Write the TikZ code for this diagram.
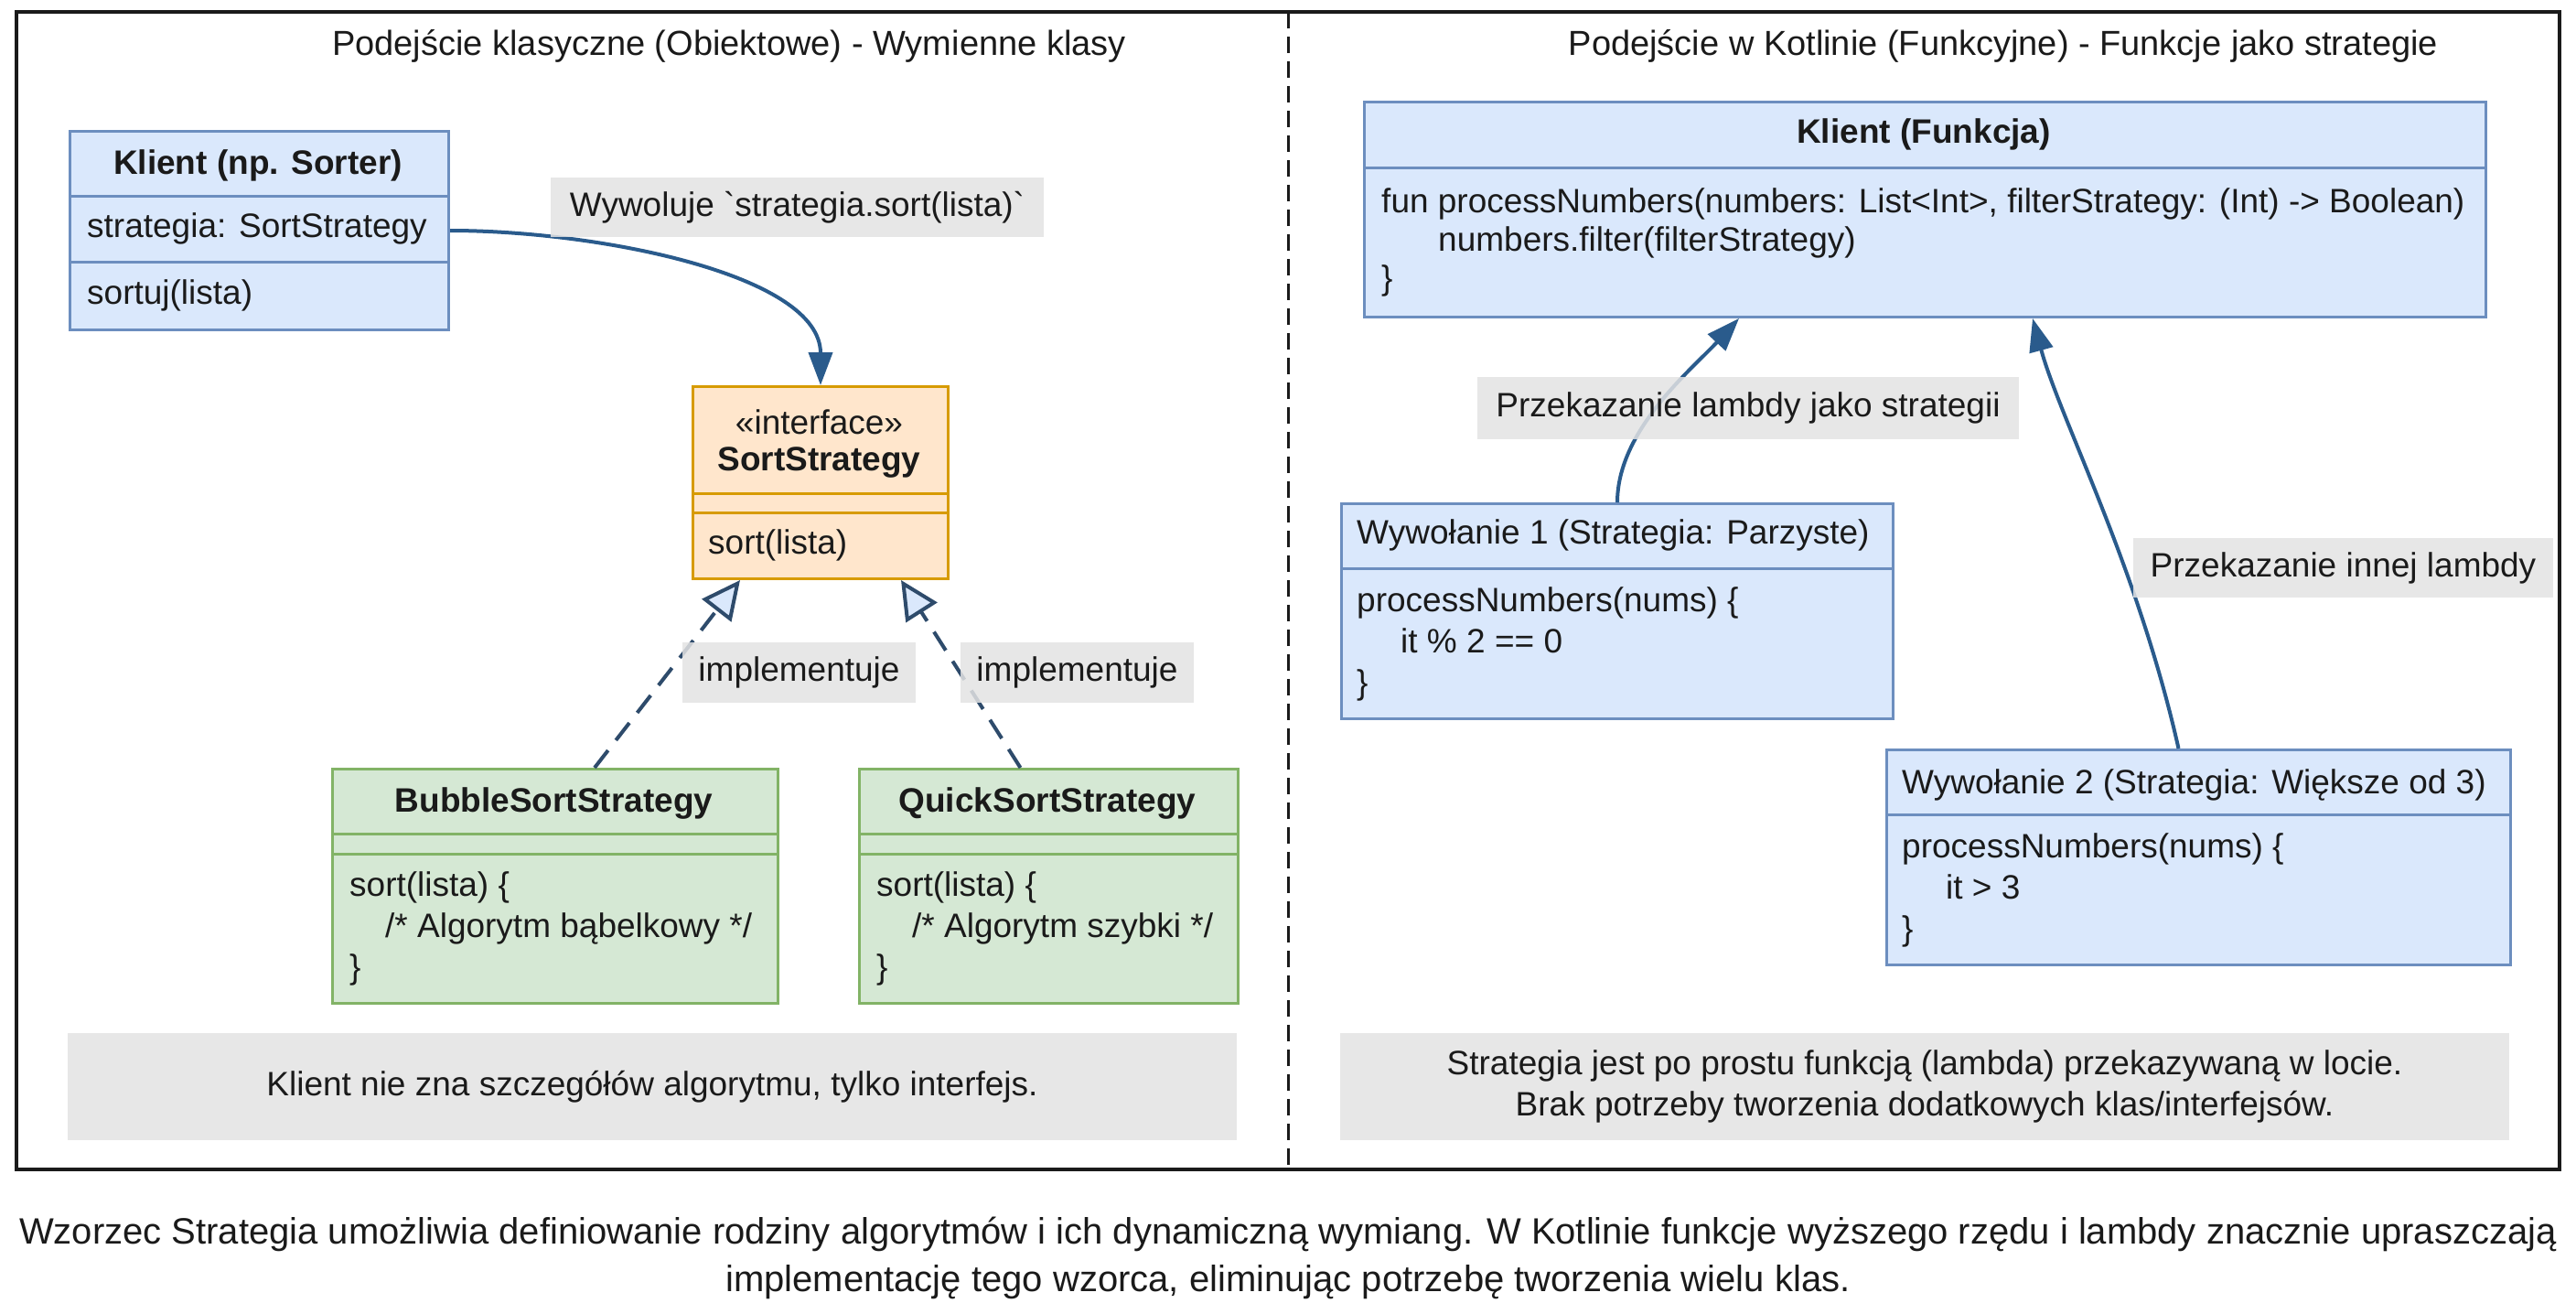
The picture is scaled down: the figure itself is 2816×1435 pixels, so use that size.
\documentclass[tikz,border=0pt]{standalone}
\usepackage{fontspec}
\setmainfont{Liberation Sans}
\usetikzlibrary{arrows.meta,calc}

\definecolor{tekst}{HTML}{1A1A1A}
\definecolor{ramka}{HTML}{1A1A1A}
\definecolor{niebWyp}{HTML}{DAE8FC}
\definecolor{niebRam}{HTML}{6C8EBF}
\definecolor{pomWyp}{HTML}{FFE6CC}
\definecolor{pomRam}{HTML}{D79B00}
\definecolor{zielWyp}{HTML}{D5E8D4}
\definecolor{zielRam}{HTML}{82B366}
\definecolor{szary}{HTML}{E3E3E3}
\definecolor{strzalka}{HTML}{2A5B8C}
\definecolor{implKol}{HTML}{2E4B6B}

\begin{document}
\begin{tikzpicture}[x=1pt, y=-1pt,
    every node/.style={inner sep=0pt, text=tekst, font=\fontsize{37}{45}\selectfont},
    klasa/.style={draw, line width=3pt, anchor=north west},
    nieb/.style={fill=niebWyp, draw=niebRam},
    pom/.style={fill=pomWyp, draw=pomRam},
    ziel/.style={fill=zielWyp, draw=zielRam},
    etykieta/.style={fill=szary, fill opacity=0.85, text opacity=1},
    tytul/.style={font=\fontsize{37}{45}\selectfont\bfseries},
    naglowek/.style={font=\fontsize{38}{45}\selectfont},
    strz/.style={draw=strzalka, line width=4pt, -{Triangle[length=36pt, width=26pt]}},
    impl/.style={draw=implKol, line width=4pt, dash pattern=on 24pt off 14pt,
      -{Triangle[fill=niebWyp, length=42pt, width=40pt]}}]
    \fill[white] (0,0) rectangle (2816,1435);
    \useasboundingbox (0,0) rectangle (2816,1435);
    \draw[ramka, line width=4pt] (18,13) rectangle (2798,1278);
    \draw[ramka, line width=3pt, dash pattern=on 18pt off 9pt] (1408,13) -- (1408,1278);
    \node[naglowek] (t1) at (797,50) {Podejście klasyczne (Obiektowe) - Wymienne klasy};
    \node[naglowek] (t2) at (2190,50) {Podejście w Kotlinie (Funkcyjne) - Funkcje jako strategie};

    % lewa strona
    \node[klasa, nieb, minimum width=414pt, minimum height=217pt] (k) at (75,142) {};
    \draw[niebRam, line width=3pt] ($(k.north west)+(0,72)$) -- ($(k.north east)+(0,72)$);
    \draw[niebRam, line width=3pt] ($(k.north west)+(0,144)$) -- ($(k.north east)+(0,144)$);
    \node[tytul] (kt) at (282,181) {Klient (np. Sorter)};
    \node[anchor=west] (ka) at (95,250) {strategia: SortStrategy};
    \node[anchor=west] (km) at (95,323) {sortuj(lista)};

    \node[klasa, pom, minimum width=279pt, minimum height=210pt] (i) at (756,421) {};
    \draw[pomRam, line width=3pt] ($(i.north west)+(0,118)$) -- ($(i.north east)+(0,118)$);
    \draw[pomRam, line width=3pt] ($(i.north west)+(0,139)$) -- ($(i.north east)+(0,139)$);
    \node (it1) at (895.5,461) {«interface»};
    \node[tytul] (it2) at (895.5,505) {SortStrategy};
    \node[anchor=west] (im) at (774,596) {sort(lista)};

    \node[klasa, ziel, minimum width=487pt, minimum height=256pt] (b) at (362,839) {};
    \draw[zielRam, line width=3pt] ($(b.north west)+(0,72)$) -- ($(b.north east)+(0,72)$);
    \draw[zielRam, line width=3pt] ($(b.north west)+(0,94)$) -- ($(b.north east)+(0,94)$);
    \node[tytul] (bt) at (605.5,878) {BubbleSortStrategy};
    \node[anchor=west, align=left] (bm) at (382,1015)
      {sort(lista) \{\\\hspace*{39pt}/* Algorytm bąbelkowy */\\\}};

    \node[klasa, ziel, minimum width=414pt, minimum height=256pt] (q) at (938,839) {};
    \draw[zielRam, line width=3pt] ($(q.north west)+(0,72)$) -- ($(q.north east)+(0,72)$);
    \draw[zielRam, line width=3pt] ($(q.north west)+(0,94)$) -- ($(q.north east)+(0,94)$);
    \node[tytul] (qt) at (1145,878) {QuickSortStrategy};
    \node[anchor=west, align=left] (qm) at (958,1015)
      {sort(lista) \{\\\hspace*{39pt}/* Algorytm szybki */\\\}};

    \draw[strz] (k.east) .. controls +(161,0) and +(0,-121) .. (i.north);
    \draw[impl] ($(b.north)+(43,0)$) -- ($(i.south west)+(53,0)$);
    \draw[impl] ($(q.north)+(-31,0)$) -- ($(i.south east)+(-53,0)$);

    \node[etykieta, minimum width=539pt, minimum height=65pt] (l1) at (871.5,226.5)
      {Wywoluje \textasciigrave strategia.sort(lista)\textasciigrave};
    \node[etykieta, minimum width=255pt, minimum height=66pt] (l2) at (873.5,735) {implementuje};
    \node[etykieta, minimum width=255pt, minimum height=66pt] (l3) at (1177.5,735) {implementuje};
    \node[etykieta, minimum width=1278pt, minimum height=117pt] (n1) at (713,1187.5)
      {Klient nie zna szczegółów algorytmu, tylko interfejs.};

    % prawa strona
    \node[klasa, nieb, minimum width=1226pt, minimum height=235pt] (kf) at (1490,110) {};
    \draw[niebRam, line width=3pt] ($(kf.north west)+(0,73)$) -- ($(kf.north east)+(0,73)$);
    \node[tytul] (kft) at (2103,147) {Klient (Funkcja)};
    \node[anchor=west, align=left, font=\fontsize{37}{42}\selectfont] (kfm) at (1510,265)
      {fun processNumbers(numbers: List<Int>, filterStrategy: (Int) -> Boolean)\\
       \hspace*{62pt}numbers.filter(filterStrategy)\\\}};

    \node[klasa, nieb, minimum width=603pt, minimum height=235pt] (w1) at (1465,549) {};
    \draw[niebRam, line width=3pt] ($(w1.north west)+(0,72)$) -- ($(w1.north east)+(0,72)$);
    \node[anchor=west] (w1t) at (1483,585) {Wywołanie 1 (Strategia: Parzyste)};
    \node[anchor=west, align=left] (w1m) at (1483,704)
      {processNumbers(nums) \{\\\hspace*{48pt}it \% 2 == 0\\\}};

    \node[klasa, nieb, minimum width=682pt, minimum height=235pt] (w2) at (2061,818) {};
    \draw[niebRam, line width=3pt] ($(w2.north west)+(0,72)$) -- ($(w2.north east)+(0,72)$);
    \node[anchor=west] (w2t) at (2079,858) {Wywołanie 2 (Strategia: Większe od 3)};
    \node[anchor=west, align=left] (w2m) at (2079,973)
      {processNumbers(nums) \{\\\hspace*{48pt}it > 3\\\}};

    \draw[strz] (w1.north) .. controls +(0,-79) and +(-51,55) .. ($(kf.south west)+(411,0)$);
    \draw[strz] ($(w2.north)+(-22,0)$) .. controls +(-45,-200) and +(30,110) .. ($(kf.south west)+(732,0)$);

    \node[etykieta, minimum width=592pt, minimum height=68pt] (l4) at (1911,446)
      {Przekazanie lambdy jako strategii};
    \node[etykieta, minimum width=459pt, minimum height=65pt] (l5) at (2561.5,620.5)
      {Przekazanie innej lambdy};
    \node[etykieta, align=center, minimum width=1278pt, minimum height=117pt] (n2) at (2104,1187.5)
      {Strategia jest po prostu funkcją (lambda) przekazywaną w locie.\\
       Brak potrzeby tworzenia dodatkowych klas/interfejsów.};

    \node[align=center, font=\fontsize{40}{52}\selectfont] (opis) at (1408,1375)
      {Wzorzec Strategia umożliwia definiowanie rodziny algorytmów i ich dynamiczną wymiang. W Kotlinie funkcje wyższego rzędu i lambdy znacznie upraszczają\\
       implementację tego wzorca, eliminując potrzebę tworzenia wielu klas.};
  \end{tikzpicture}
\end{document}
